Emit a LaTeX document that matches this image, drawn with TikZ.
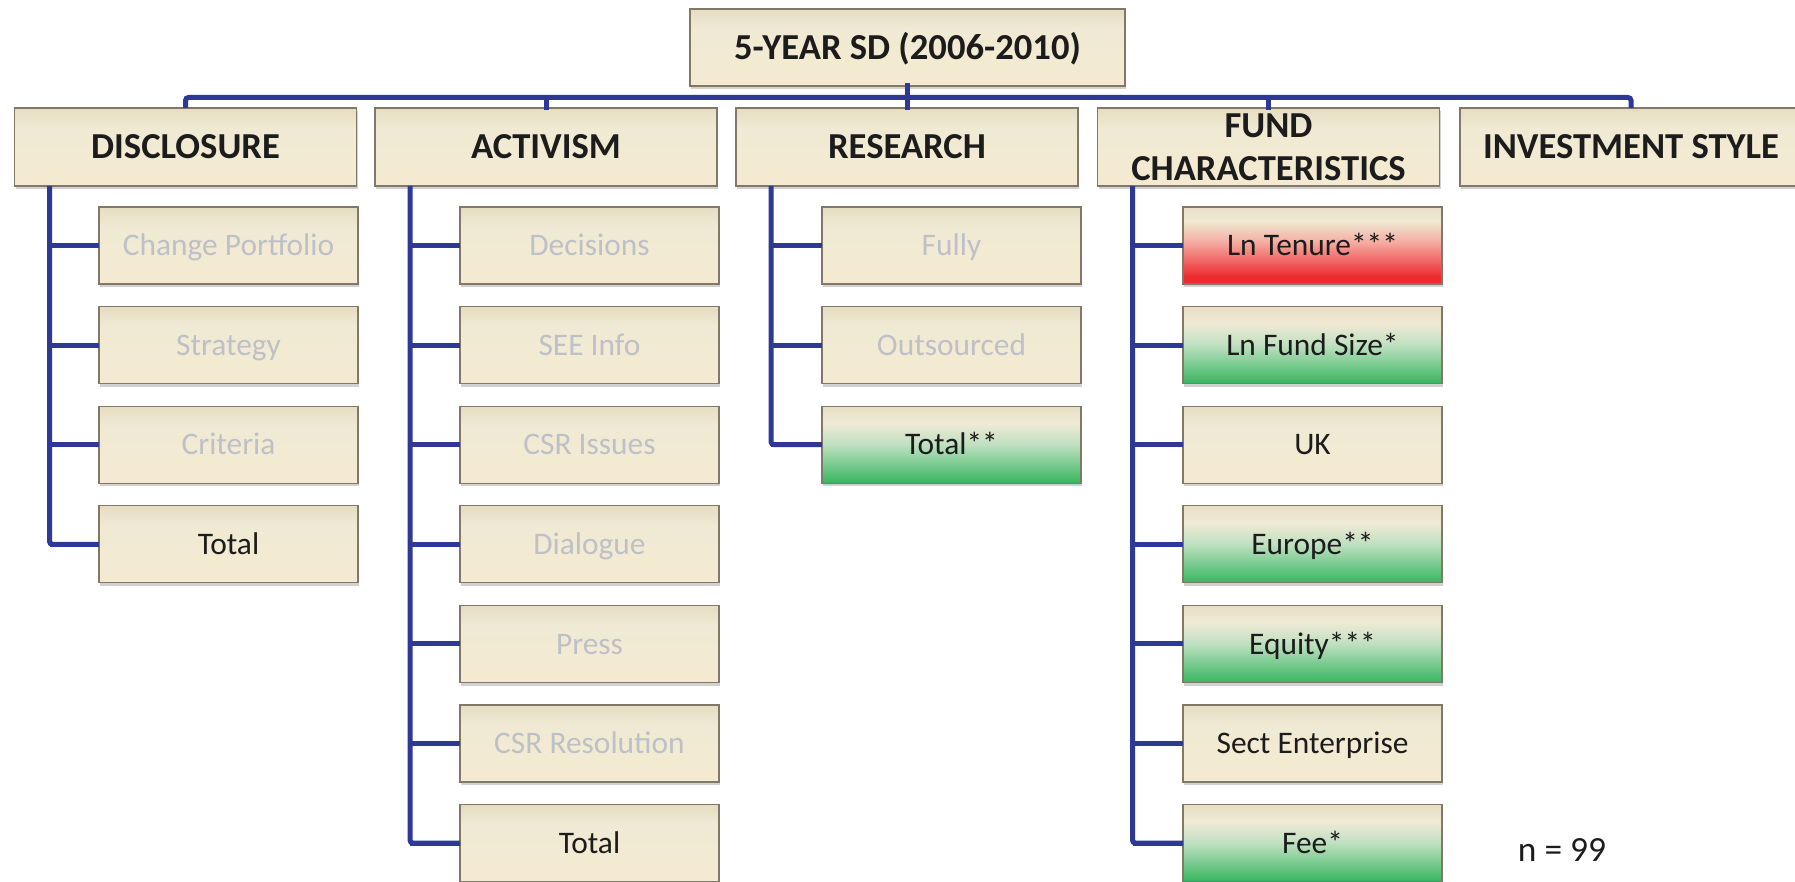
\documentclass[tikz,border=0pt]{standalone}
\usepackage{fontspec}
\setmainfont{Carlito}
\usetikzlibrary{shadows}

% palette
\definecolor{connblue}{RGB}{46,56,150}
\definecolor{boxtan}{RGB}{210,195,158}
\definecolor{boxlight}{RGB}{240,234,212}
\definecolor{boxcream}{RGB}{248,234,206}
\definecolor{boxgreen}{RGB}{32,174,78}
\definecolor{boxgreenmid}{RGB}{190,224,192}
\definecolor{boxred}{RGB}{237,30,36}
\definecolor{boxredmid}{RGB}{244,170,160}
\definecolor{boxedge}{RGB}{130,120,104}
\definecolor{dimtext}{RGB}{190,192,200}
\definecolor{darktext}{RGB}{28,28,28}

% vertical fills, listed from bottom to top
\pgfdeclareverticalshading{tanfill}{100bp}{color(0bp)=(boxcream); color(62bp)=(boxlight); color(100bp)=(boxtan)}
\pgfdeclareverticalshading{greenfill}{100bp}{color(0bp)=(boxgreen); color(25bp)=(boxgreen!90!white); color(50bp)=(boxgreenmid); color(64bp)=(boxlight); color(100bp)=(boxtan)}
\pgfdeclareverticalshading{redfill}{100bp}{color(0bp)=(boxred); color(30bp)=(boxred!94!white); color(52bp)=(boxredmid); color(66bp)=(boxlight); color(100bp)=(boxtan)}

\tikzset{
  boxbase/.style={rectangle, draw=boxedge, line width=0.6pt, inner sep=0pt, outer sep=0pt,
    shading=tanfill, text=darktext, align=center, text depth=0pt,
    drop shadow={shadow xshift=0.6pt, shadow yshift=-1.6pt, opacity=0.3, fill=black!60}},
  titlebox/.style={boxbase, minimum width=217.5pt, minimum height=38.5pt, text height=11.8pt,
    font=\fontsize{18.3}{21.5}\selectfont\bfseries},
  headbox/.style={boxbase, minimum width=171pt, minimum height=39pt, text height=11.8pt,
    font=\fontsize{18.3}{21.5}\selectfont\bfseries},
  twolinehead/.style={headbox, text height=33.3pt},
  subbox/.style={boxbase, minimum width=129.5pt, minimum height=38.5pt, text height=10.1pt,
    font=\fontsize{15.7}{19}\selectfont},
  greyitem/.style={subbox, text=dimtext},
  plainitem/.style={subbox},
  greenitem/.style={subbox, shading=greenfill},
  reditem/.style={subbox, shading=redfill},
  conn/.style={draw=connblue, line width=2.5pt, line cap=rect},
  trunk/.style={conn, rounded corners=1.5pt, line cap=butt}
}

\begin{document}
\begin{tikzpicture}[x=0.5pt, y=-0.5pt]
\useasboundingbox (0,0) rectangle (1795,882);
\clip (0,0) rectangle (1795,882);

% bus level of the top connector
\coordinate (bus) at (0,97.5);

% top node and first-level headings
\node[titlebox] (title) at (907.5,47.5) {5-YEAR SD (2006-2010)};
\node[headbox] (disc) at (185.5,147) {DISCLOSURE};
\node[headbox] (act)  at (546,147)   {ACTIVISM};
\node[headbox] (res)  at (907,147)   {RESEARCH};
\node[twolinehead] (fund) at (1268.5,147) {FUND\\CHARACTERISTICS};
\node[headbox] (inv)  at (1631,147)  {INVESTMENT STYLE};

% top connector
\draw[trunk] (disc.north) -- (disc.north |- bus) -- (inv.north |- bus) -- (inv.north);
\draw[conn] (title.south) -- (title.south |- bus);
\draw[conn] (act.north) -- (act.north |- bus);
\draw[conn] (res.north) -- (res.north |- bus);
\draw[conn] (fund.north) -- (fund.north |- bus);

% trunk tops below each heading
\coordinate (dtop) at ([xshift=17.5pt]disc.south west);
\coordinate (atop) at ([xshift=17.5pt]act.south west);
\coordinate (rtop) at ([xshift=17.5pt]res.south west);
\coordinate (ftop) at ([xshift=17.5pt]fund.south west);

% DISCLOSURE items
\foreach \lab/\sty [count=\i] in {Change Portfolio/greyitem, Strategy/greyitem, Criteria/greyitem, Total/plainitem}{
  \node[\sty] (d\i) at (228.5,{245.5+(\i-1)*99.6}) {\lab};
  \draw[conn, line cap=butt] (d\i.west) -- (d\i.west -| dtop);
}
\draw[trunk] (dtop) |- (d4.west);

% ACTIVISM items
\foreach \lab/\sty [count=\i] in {Decisions/greyitem, SEE Info/greyitem, CSR Issues/greyitem, Dialogue/greyitem, Press/greyitem, CSR Resolution/greyitem, Total/plainitem}{
  \node[\sty] (a\i) at (589.5,{245.5+(\i-1)*99.6}) {\lab};
  \draw[conn, line cap=butt] (a\i.west) -- (a\i.west -| atop);
}
\draw[trunk] (atop) |- (a7.west);

% RESEARCH items
\foreach \lab/\sty [count=\i] in {Fully/greyitem, Outsourced/greyitem, Total**/greenitem}{
  \node[\sty] (r\i) at (951.5,{245.5+(\i-1)*99.6}) {\lab};
  \draw[conn, line cap=butt] (r\i.west) -- (r\i.west -| rtop);
}
\draw[trunk] (rtop) |- (r3.west);

% FUND CHARACTERISTICS items
\foreach \lab/\sty [count=\i] in {Ln Tenure***/reditem, Ln Fund Size*/greenitem, UK/plainitem, Europe**/greenitem, Equity***/greenitem, Sect Enterprise/plainitem, Fee*/greenitem}{
  \node[\sty] (f\i) at (1312.5,{245.5+(\i-1)*99.6}) {\lab};
  \draw[conn, line cap=butt] (f\i.west) -- (f\i.west -| ftop);
}
\draw[trunk] (ftop) |- (f7.west);

% sample size
\node[font=\fontsize{17.7}{20}\selectfont, text=darktext, inner sep=0pt] (nlabel) at (1562,850) {n = 99};
\end{tikzpicture}
\end{document}
